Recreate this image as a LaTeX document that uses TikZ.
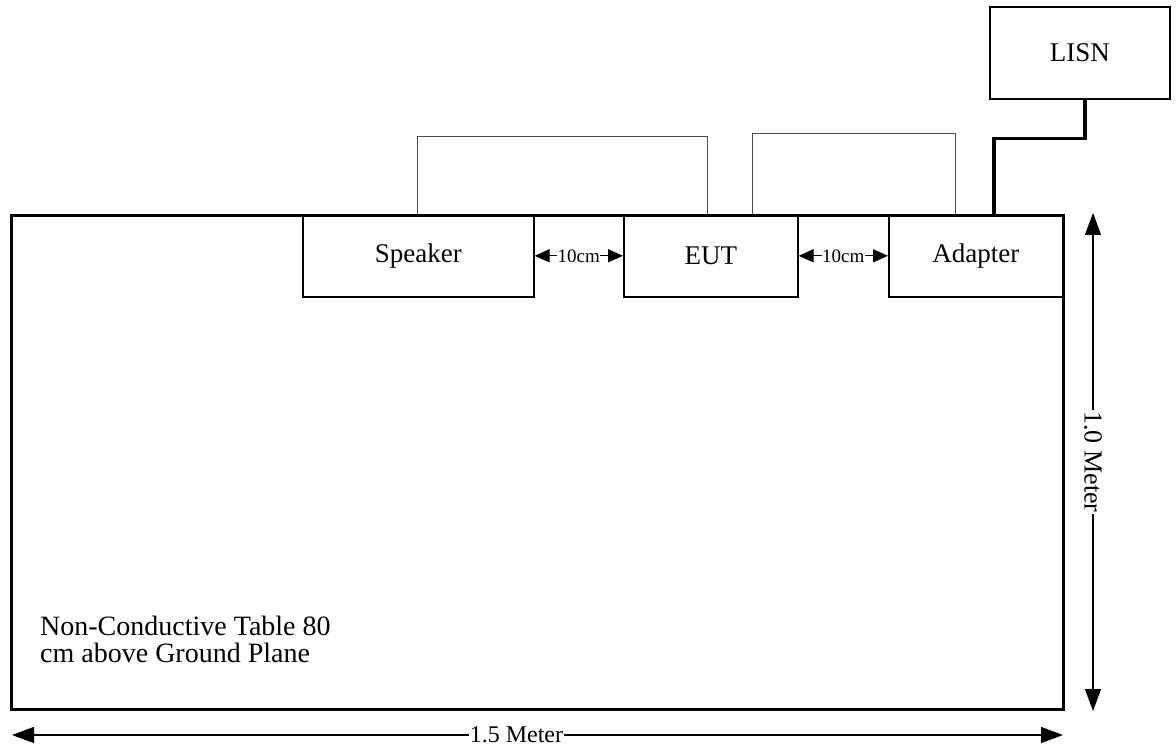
\documentclass[tikz,border=0pt]{standalone}
\usepackage{fontspec}
\setmainfont{Liberation Serif}
\usetikzlibrary{arrows.meta,calc}
\begin{document}
\begin{tikzpicture}[x=1pt,y=-1pt,
  box/.style={draw,line width=1.6pt,rectangle,anchor=north west,inner sep=0pt,font=\fontsize{27}{27}\selectfont},
  tablebox/.style={draw,line width=3pt,rectangle,anchor=north west,inner sep=0pt},
  cableloop/.style={draw=black!70,line width=1pt},
  power/.style={draw,line width=3.5pt},
  gap/.style={{Triangle[length=15pt,width=13pt]}-{Triangle[length=15pt,width=13pt]},line width=1.2pt},
  dim/.style={{Triangle[length=22pt,width=16pt]}-{Triangle[length=22pt,width=16pt]},line width=1.3pt},
  gaplabel/.style={fill=white,inner sep=0.5pt,font=\fontsize{19}{19}\selectfont},
  dimlabel/.style={fill=white,inner sep=1pt,font=\fontsize{24}{24}\selectfont}]
\useasboundingbox (0,0) rectangle (1176,746);
% table
\node[tablebox,minimum width=1052pt,minimum height=494pt] (tab) at (10,214) {};
% boxes
\node[box,minimum width=231pt,minimum height=82pt] (spk) at (302,214) {Speaker};
\node[box,minimum width=174pt,minimum height=82pt] (eut) at (623,214) {EUT};
\node[box,minimum width=174pt,minimum height=82pt] (adp) at (888,214) {Adapter};
\node[box,minimum width=180pt,minimum height=92pt] (lisn) at (989,6) {LISN};
% cables
\draw[cableloop] ($(spk.north west)+(115,0)$) |- ($(eut.north west)+(84,-77)$) -- ($(eut.north west)+(84,0)$);
\draw[cableloop] ($(eut.north west)+(129,0)$) |- ($(adp.north west)+(67,-80)$) -- ($(adp.north west)+(67,0)$);
\draw[power] ($(adp.north west)+(106,0)$) |- ($(lisn.south)+(5,39)$) -- ($(lisn.south)+(5,0)$);
% gaps
\draw[gap] (spk.east) -- node[gaplabel] {10cm} (eut.west);
\draw[gap] (eut.east) -- node[gaplabel] {10cm} (adp.west);
% dimensions
\coordinate (vt) at ($(tab.north east)+(28,-1)$);
\coordinate (vb) at ($(tab.south east)+(28,0)$);
\draw[dim] (vt) -- node[dimlabel,rotate=-90,pos=0.5,font=\fontsize{26}{26}\selectfont] {1.0 Meter} (vb);
\coordinate (hl) at ($(tab.south west)+(2,24)$);
\coordinate (hr) at ($(tab.south east)+(-2,24)$);
\draw[dim] (hl) -- node[dimlabel,pos=0.48] {1.5 Meter} (hr);
% table label
\node[anchor=north west,align=left,inner sep=0pt,font=\fontsize{28}{27}\selectfont] (tlabel) at (40,616) {Non-Conductive Table 80\\cm above Ground Plane};
\end{tikzpicture}
\end{document}
